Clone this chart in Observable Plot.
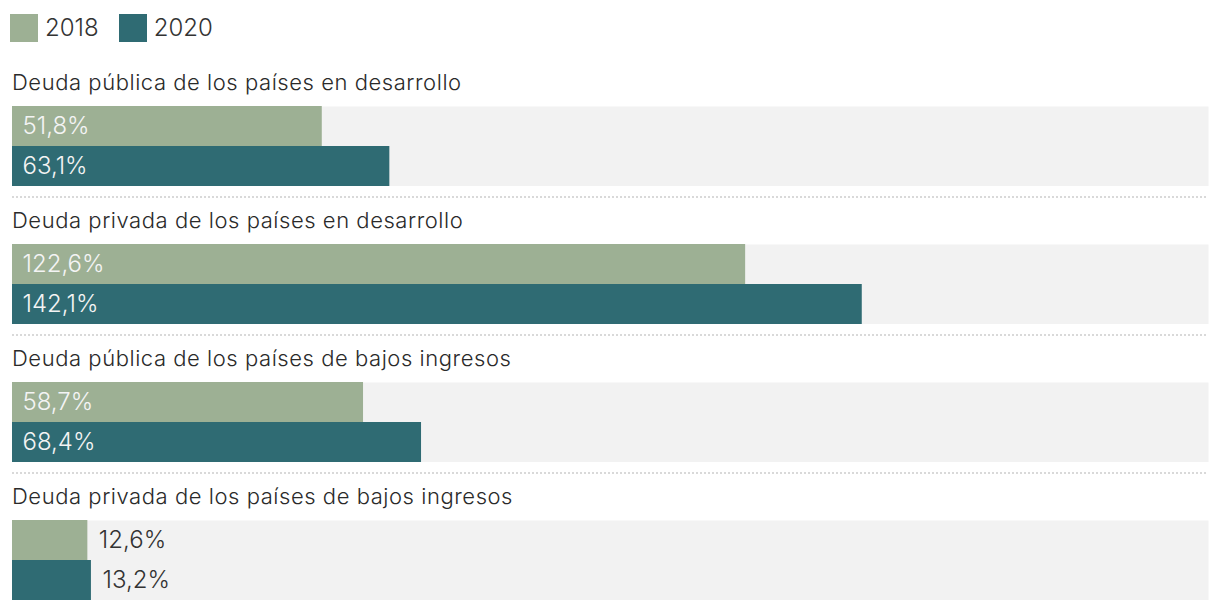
<!DOCTYPE html>
<html>
<head>
<meta charset="utf-8">
<script src="https://cdn.jsdelivr.net/npm/d3@7"></script>
<script src="https://cdn.jsdelivr.net/npm/@observablehq/plot@0.6"></script>
<style>
  html, body { margin: 0; padding: 0; background: #fff; }
  body { width: 1220px; height: 612px; overflow: hidden; font-family: Inter, "Noto Sans", sans-serif; color: #333; }
  .legend { display: flex; align-items: center; padding-top: 14px; height: 28px; padding-left: 10px; }
  .legend .item { display: flex; align-items: center; margin-right: 20px; }
  .legend .sw { width: 28px; height: 28px; margin-right: 7px; }
  .legend .lab { font-size: 24px; font-weight: 300; line-height: 28px; }
  .group { margin-top: 10px; }
  .group.first { margin-top: 28px; }
  .title { height: 24px; line-height: 24px; font-size: 22px; font-weight: 300; letter-spacing: 0.55px; padding-left: 12px; margin-bottom: 12px; white-space: nowrap; color: #2a2a2a; }
  .dots { margin: 10px 12px 0 12px; height: 2px; background-image: repeating-linear-gradient(to right, #d9d9d9 0 2px, transparent 2px 4px); }
  svg { display: block; }
</style>
</head>
<body>
<div id="chart"></div>
<script>
const groups = [
  "Deuda pública de los países en desarrollo",
  "Deuda privada de los países en desarrollo",
  "Deuda pública de los países de bajos ingresos",
  "Deuda privada de los países de bajos ingresos"
];
const years = ["2018", "2020"];
const values2018 = [51.8, 122.6, 58.7, 12.6];
const values2020 = [63.1, 142.1, 68.4, 13.2];
const colors = ["#9db094", "#2f6b73"];
const xDomain = [0, 200];

const fmt = v => d3.format(".1f")(v).replace(".", ",") + "%";
const root = document.getElementById("chart");

// Legend
const legend = document.createElement("div");
legend.className = "legend";
years.forEach((y, i) => {
  const item = document.createElement("div");
  item.className = "item";
  const sw = document.createElement("div");
  sw.className = "sw";
  sw.style.background = colors[i];
  const lab = document.createElement("span");
  lab.className = "lab";
  lab.textContent = y;
  item.appendChild(sw); item.appendChild(lab);
  legend.appendChild(item);
});
root.appendChild(legend);

groups.forEach((g, gi) => {
  const rows = years.map((y, i) => ({ year: y, value: (i === 0 ? values2018 : values2020)[gi] }));
  const block = document.createElement("div");
  block.className = "group" + (gi === 0 ? " first" : "");
  const title = document.createElement("div");
  title.className = "title";
  title.textContent = g;
  block.appendChild(title);

  const chart = Plot.plot({
    width: 1220,
    height: 80,
    marginLeft: 12, marginRight: 12, marginTop: 0, marginBottom: 0,
    x: { domain: xDomain, axis: null },
    y: { domain: years, axis: null, padding: 0 },
    color: { domain: years, range: colors },
    style: { fontFamily: "Inter, 'Noto Sans', sans-serif", fontSize: "24px", background: "transparent", color: "#333" },
    marks: [
      Plot.frame({ fill: "#f2f2f2", stroke: "none" }),
      Plot.barX(rows, { x: "value", y: "year", fill: "year" }),
      Plot.text(rows.filter(d => d.value >= 20), {
        y: "year", text: d => fmt(d.value), frameAnchor: "left", dx: 10,
        textAnchor: "start", fill: "#f4f4f4", fontSize: 24, fontWeight: 300
      }),
      Plot.text(rows.filter(d => d.value < 20), {
        x: "value", y: "year", text: d => fmt(d.value), dx: 11,
        textAnchor: "start", fill: "#333", fontSize: 24, fontWeight: 300
      })
    ]
  });
  block.appendChild(chart);
  if (gi < groups.length - 1) {
    const dots = document.createElement("div");
    dots.className = "dots";
    block.appendChild(dots);
  }
  root.appendChild(block);
});
</script>
</body>
</html>
